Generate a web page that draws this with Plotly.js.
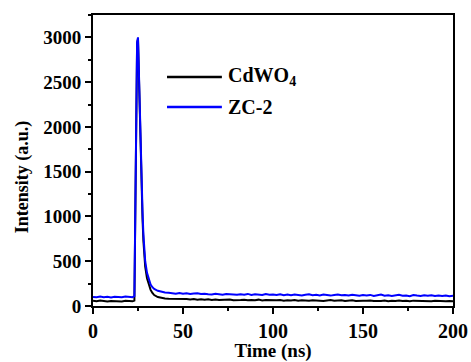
<!DOCTYPE html>
<html>
<head>
<meta charset="utf-8">
<script src="https://cdn.plot.ly/plotly-3.0.1.min.js"></script>
<style>html,body{margin:0;padding:0;background:#fff;}#chart{width:471px;height:362px;}</style>
</head>
<body>
<div id="chart"></div>
<script>
// Time axis (ns)
const timeNs = [0,2,4,6,8,10,12,14,16,18,20,22,
  23,23.5,24,24.5,25,25.5,26,26.5,27,27.5,28,28.5,29,30,31,32,33,34,36,38,40,42,
  44,46,48,50,52,54,56,58,60,
  62,64,66,68,70,72,74,76,78,80,82,84,86,88,90,92,94,96,98,100,
  102,104,106,108,110,112,114,116,118,120,122,124,126,128,130,132,134,136,138,140,142,144,146,148,150,
  152,154,156,158,160,162,164,166,168,170,172,174,176,178,180,182,184,186,188,190,192,194,196,198,200];

// CdWO4 intensity (a.u.)
const cdwo4 = [58,52,60,55,50,57,53,56,51,59,54,52,
  60,1150,2450,2930,2980,2500,2050,1650,1300,980,730,560,440,310,230,180,145,122,100,90,84,80,
  80,76,82,74,78,72,77,71,75,
  70,74,67,72,66,71,68,73,64,69,66,70,63,68,65,71,62,67,64,66,
  63,67,60,65,61,66,59,64,62,58,65,60,63,57,62,66,58,61,64,57,60,63,56,61,59,
  58,62,55,60,57,61,54,59,56,62,55,58,53,60,57,54,59,56,52,58,55,57,53,56,54];

// ZC-2 intensity (a.u.)
const zc2 = [102,97,105,99,103,96,104,100,98,106,101,99,
  110,1200,2500,2950,3000,2550,2100,1720,1380,1060,800,630,500,370,290,240,210,190,170,159,152,147,
  142,138,145,136,141,134,139,143,133,
  137,131,128,136,130,126,134,129,132,125,131,127,135,124,130,128,122,133,126,129,
  124,130,121,127,119,128,123,117,126,131,120,125,118,127,122,116,124,129,119,123,117,126,121,115,122,
  118,124,113,120,127,115,119,112,121,125,114,118,110,123,116,112,119,115,121,111,117,113,118,109,114];

const seriesNames = ["CdWO<sub>4</sub>", "ZC-2"];
const seriesColors = ["#000000", "#0000ff"];
const xTicks = [0,50,100,150,200];
const yTicks = [0,500,1000,1500,2000,2500,3000];

const FONT = "Liberation Serif, Times New Roman, serif";

const traces = [
  {x: timeNs, y: cdwo4, type: "scatter", mode: "lines", name: seriesNames[0],
   line: {color: seriesColors[0], width: 2}},
  {x: timeNs, y: zc2, type: "scatter", mode: "lines", name: seriesNames[1],
   line: {color: seriesColors[1], width: 2}}
];

// custom legend (paper coordinates)
const legY = [0.787, 0.684];
const shapes = [], annotations = [];
for (let i = 0; i < 2; i++) {
  shapes.push({type: "line", xref: "paper", yref: "paper", x0: 0.2056, x1: 0.358, y0: legY[i], y1: legY[i],
    line: {color: seriesColors[i], width: 2.5}});
  annotations.push({xref: "paper", yref: "paper", x: 0.37, y: legY[i], xanchor: "left", yanchor: "middle",
    text: "<b>" + seriesNames[i] + "</b>", showarrow: false,
    font: {family: FONT, size: 20, color: "#000"}});
}
annotations.push({xref: "paper", yref: "paper", x: -0.197, y: 0.443, textangle: -90,
  xanchor: "center", yanchor: "middle", showarrow: false,
  text: "<b>Intensity (a.u.)</b>", font: {family: FONT, size: 18, color: "#000"}});

const bold = v => "<b>" + v + "</b>";

const layout = {
  width: 471, height: 362,
  margin: {l: 93, r: 18, t: 15, b: 56},
  paper_bgcolor: "#fff", plot_bgcolor: "#fff",
  showlegend: false,
  font: {family: FONT, size: 18, color: "#000"},
  xaxis: {
    range: [0, 200], tickvals: xTicks, ticktext: xTicks.map(bold),
    showgrid: false, zeroline: false,
    showline: true, linecolor: "#000", linewidth: 2, mirror: true,
    ticks: "outside", ticklen: 6, tickwidth: 2, tickcolor: "#000",
    tickfont: {family: FONT, size: 20, color: "#000"},
    minor: {dtick: 25, tick0: 0, ticks: "outside", ticklen: 3, tickwidth: 2, tickcolor: "#000", showgrid: false},
    title: {text: "<b>Time (ns)</b>", font: {family: FONT, size: 19, color: "#000"}, standoff: 2}
  },
  yaxis: {
    range: [0, 3250], tickvals: yTicks, ticktext: yTicks.map(bold),
    showgrid: false, zeroline: false,
    showline: true, linecolor: "#000", linewidth: 2, mirror: true,
    ticks: "outside", ticklen: 6, tickwidth: 2, tickcolor: "#000",
    tickfont: {family: FONT, size: 19, color: "#000"},
    minor: {dtick: 250, tick0: 0, ticks: "outside", ticklen: 3, tickwidth: 2, tickcolor: "#000", showgrid: false}
  },
  shapes: shapes,
  annotations: annotations
};

Plotly.newPlot("chart", traces, layout, {displayModeBar: false, staticPlot: true});
</script>
</body>
</html>
